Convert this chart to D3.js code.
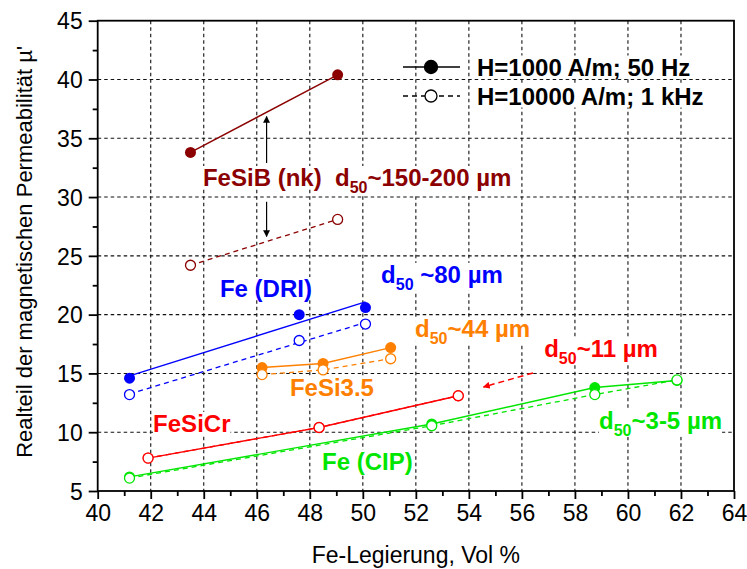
<!DOCTYPE html>
<html>
<head>
<meta charset="utf-8">
<script src="https://cdn.jsdelivr.net/npm/d3@7"></script>
<style>
  body { margin: 0; background: #fff; }
  svg { display: block; font-family: "Liberation Sans", Arial, sans-serif; }
</style>
</head>
<body>
<div class="chart"></div>
<script>
var w = 747,
    h = 569;

// values
var fesibX = [43.5, 49.05],
    fesibFilled = [33.8, 40.4],
    fesibOpen = [24.2, 28.1];

var driX = [41.2, 47.6, 50.1],
    driFilled = [14.6, 20.0, 20.6],
    driOpen = [13.2, 17.8, 19.2];

var fesi35X = [46.2, 48.5, 51.05],
    fesi35Filled = [15.5, 15.85, 17.2],
    fesi35Open = [14.9, 15.3, 16.25];

var fesicrX = [41.9, 48.35, 53.6],
    fesicrFilled = [7.8, 10.4, 13.1],
    fesicrOpen = [7.8, 10.4, 13.1];

var cipX = [41.2, 52.6, 58.75, 61.85],
    cipFilled = [6.2, 10.7, 13.8, 14.4],
    cipOpen = [6.1, 10.55, 13.2, 14.45];

var xTicks = [40, 42, 44, 46, 48, 50, 52, 54, 56, 58, 60, 62, 64],
    yTicks = [5, 10, 15, 20, 25, 30, 35, 40, 45];

var legendLabels = ["H=1000 A/m; 50 Hz", "H=10000 A/m; 1 kHz"];

var series = [
  { name: "FeSiB", color: "#8b0000", x: fesibX, filled: fesibFilled, open: fesibOpen, fit: false },
  { name: "DRI", color: "#0000ff", x: driX, filled: driFilled, open: driOpen, fit: true },
  { name: "FeSi3.5", color: "#ff8000", x: fesi35X, filled: fesi35Filled, open: fesi35Open, fit: false },
  { name: "FeSiCr", color: "#ff0000", x: fesicrX, filled: fesicrFilled, open: fesicrOpen, fit: false },
  { name: "CIP", color: "#00e600", x: cipX, filled: cipFilled, open: cipOpen, fit: false }
];

// annotation texts: [main, subscript, rest, color, x, y] with x/y in data units
var notes = [
  ["FeSiB (nk)", "", "", "#8b0000", 43.97, 30.94],
  ["d", "50", "~150-200 µm", "#8b0000", 48.95, 30.94],
  ["Fe (DRI)", "", "", "#0000ff", 44.61, 21.5],
  ["d", "50", " ~80 µm", "#0000ff", 50.69, 22.7],
  ["d", "50", "~44 µm", "#ff8000", 51.97, 18.1],
  ["FeSi3.5", "", "", "#ff8000", 47.25, 13.09],
  ["d", "50", "~11 µm", "#ff0000", 56.84, 16.4],
  ["FeSiCr", "", "", "#ff0000", 42.09, 10.03],
  ["Fe (CIP)", "", "", "#00e600", 48.46, 6.81],
  ["d", "50", "~3-5 µm", "#00e600", 58.91, 10.3]
];

var svg = d3.select(".chart").append("svg")
  .attr("width", w)
  .attr("height", h);

var x = d3.scaleLinear().domain([40, 64]).range([97.7, 734]);
var y = d3.scaleLinear().domain([5, 45]).range([491, 20.7]);

var defs = svg.append("defs");
function marker(id, color) {
  defs.append("marker")
    .attr("id", id)
    .attr("viewBox", "0 0 10 10")
    .attr("refX", 9).attr("refY", 5)
    .attr("markerWidth", 7).attr("markerHeight", 7)
    .attr("markerUnits", "userSpaceOnUse")
    .attr("orient", "auto")
    .append("path")
    .attr("d", "M0,0 L10,5 L0,10 z")
    .attr("fill", color);
}
marker("arrBlack", "#000");
marker("arrRed", "#ff0000");

var gridLayer = svg.append("g"),
    bgLayer = svg.append("g"),
    dataLayer = svg.append("g"),
    textLayer = svg.append("g");

// grid
gridLayer.selectAll(".vg")
  .data(xTicks.slice(1, -1))
  .enter().append("line")
  .attr("x1", function(d) { return x(d); })
  .attr("x2", function(d) { return x(d); })
  .attr("y1", y(45)).attr("y2", y(5))
  .attr("stroke", "#111").attr("stroke-width", 1.1)
  .attr("stroke-dasharray", "3.5,3");

gridLayer.selectAll(".hg")
  .data(yTicks.slice(1, -1))
  .enter().append("line")
  .attr("y1", function(d) { return y(d); })
  .attr("y2", function(d) { return y(d); })
  .attr("x1", x(40)).attr("x2", x(64))
  .attr("stroke", "#111").attr("stroke-width", 1.1)
  .attr("stroke-dasharray", "3.5,3");

// axes
var xAxis = d3.axisBottom(x).tickValues(xTicks).tickSize(8).tickFormat(d3.format("d"));
var xMinor = d3.axisBottom(x).tickValues(d3.range(41, 64, 2)).tickSize(5).tickFormat("");
var yAxis = d3.axisLeft(y).tickValues(yTicks).tickSize(9).tickFormat(d3.format("d"));
var yMinor = d3.axisLeft(y).tickValues(d3.range(7.5, 45, 5)).tickSize(5).tickFormat("");

function styleAxis(g) {
  g.select(".domain").remove();
  g.selectAll("line").attr("stroke", "#000").attr("stroke-width", 1.8);
  g.selectAll("text").attr("fill", "#000")
    .style("font-size", "23px")
    .style("font-family", "'Liberation Sans', Arial, sans-serif");
}

svg.append("g").attr("transform", "translate(0," + y(5) + ")").call(xAxis).call(styleAxis)
  .selectAll("text").attr("y", 14).attr("dy", "0.71em");
svg.append("g").attr("transform", "translate(0," + y(5) + ")").call(xMinor).call(styleAxis);
svg.append("g").attr("transform", "translate(" + x(40) + ",0)").call(yAxis).call(styleAxis)
  .selectAll("text").attr("x", -15).attr("dy", "0.36em");
svg.append("g").attr("transform", "translate(" + x(40) + ",0)").call(yMinor).call(styleAxis);

// frame
svg.append("rect")
  .attr("x", x(40)).attr("y", y(45))
  .attr("width", x(64) - x(40)).attr("height", y(5) - y(45))
  .attr("fill", "none").attr("stroke", "#000").attr("stroke-width", 1.8);

// axis titles
svg.append("text")
  .attr("x", (x(40) + x(64)) / 2).attr("y", 563)
  .attr("text-anchor", "middle")
  .style("font-size", "23px")
  .text("Fe-Legierung, Vol %");

svg.append("text")
  .attr("transform", "translate(32," + ((y(5) + y(45)) / 2 - 4) + ") rotate(-90)")
  .attr("text-anchor", "middle")
  .style("font-size", "22px")
  .text("Realteil der magnetischen Permeabilität µ'");

// lines
function fitLine(xs, ys) {
  var mx = d3.mean(xs), my = d3.mean(ys);
  var sxy = d3.sum(xs, function(v, i) { return (v - mx) * (ys[i] - my); });
  var sxx = d3.sum(xs, function(v) { return (v - mx) * (v - mx); });
  var b = sxy / sxx;
  var ends = d3.extent(xs);
  return ends.map(function(v) { return [v, my + b * (v - mx)]; });
}

var line = d3.line()
  .x(function(d) { return x(d[0]); })
  .y(function(d) { return y(d[1]); });

series.forEach(function(s) {
  var solid = s.fit ? fitLine(s.x, s.filled) : d3.zip(s.x, s.filled);
  var dashed = s.fit ? fitLine(s.x, s.open) : d3.zip(s.x, s.open);

  dataLayer.append("path")
    .attr("d", line(dashed))
    .attr("fill", "none")
    .attr("stroke", s.color)
    .attr("stroke-width", 1.3)
    .attr("stroke-dasharray", "5,4");

  dataLayer.append("path")
    .attr("d", line(solid))
    .attr("fill", "none")
    .attr("stroke", s.color)
    .attr("stroke-width", 1.4);

  dataLayer.selectAll(null)
    .data(d3.zip(s.x, s.filled))
    .enter().append("circle")
    .attr("cx", function(d) { return x(d[0]); })
    .attr("cy", function(d) { return y(d[1]); })
    .attr("r", 5.5)
    .attr("fill", s.color);

  dataLayer.selectAll(null)
    .data(d3.zip(s.x, s.open))
    .enter().append("circle")
    .attr("cx", function(d) { return x(d[0]); })
    .attr("cy", function(d) { return y(d[1]); })
    .attr("r", 5)
    .attr("fill", "#fff")
    .attr("stroke", s.color)
    .attr("stroke-width", 1.3);
});

// arrows
dataLayer.append("line")
  .attr("x1", x(46.37)).attr("y1", y(32.9))
  .attr("x2", x(46.37)).attr("y2", y(36.85))
  .attr("stroke", "#000").attr("stroke-width", 1.2)
  .attr("marker-end", "url(#arrBlack)");
dataLayer.append("line")
  .attr("x1", x(46.37)).attr("y1", y(29.6))
  .attr("x2", x(46.37)).attr("y2", y(26.65))
  .attr("stroke", "#000").attr("stroke-width", 1.2)
  .attr("marker-end", "url(#arrBlack)");
dataLayer.append("line")
  .attr("x1", x(56.42)).attr("y1", y(15.04))
  .attr("x2", x(54.55)).attr("y2", y(13.85))
  .attr("stroke", "#ff0000").attr("stroke-width", 1.5)
  .attr("stroke-dasharray", "6,4")
  .attr("marker-end", "url(#arrRed)");

// labels with white boxes that hide the grid
function addLabel(px, py, main, sub, rest, color, size, bold) {
  var t = textLayer.append("text")
    .attr("x", px).attr("y", py)
    .attr("fill", color)
    .style("font-size", size + "px")
    .style("font-weight", bold ? "bold" : "normal");
  t.append("tspan").text(main);
  if (sub) {
    t.append("tspan").attr("dy", 7).style("font-size", "16px").text(sub);
    t.append("tspan").attr("dy", -7).text(rest);
  }
  var bb = t.node().getBBox();
  bgLayer.append("rect")
    .attr("x", bb.x).attr("y", bb.y + 2)
    .attr("width", bb.width).attr("height", bb.height - 4)
    .attr("fill", "#fff");
}

notes.forEach(function(n) {
  addLabel(x(n[4]), y(n[5]), n[0], n[1], n[2], n[3], 24, true);
});

// legend
var legendY = [67, 96];
legendLabels.forEach(function(lbl, i) {
  dataLayer.append("line")
    .attr("x1", 403).attr("x2", 460)
    .attr("y1", legendY[i]).attr("y2", legendY[i])
    .attr("stroke", "#000").attr("stroke-width", 1.3)
    .attr("stroke-dasharray", i ? "5,4" : null);
  dataLayer.append("circle")
    .attr("cx", 431).attr("cy", legendY[i])
    .attr("r", i ? 6 : 6.5)
    .attr("fill", i ? "#fff" : "#000")
    .attr("stroke", "#000").attr("stroke-width", 1.3);
  addLabel(477, legendY[i] + 8.5, lbl, "", "", "#000", 24, true);
});
</script>
</body>
</html>
